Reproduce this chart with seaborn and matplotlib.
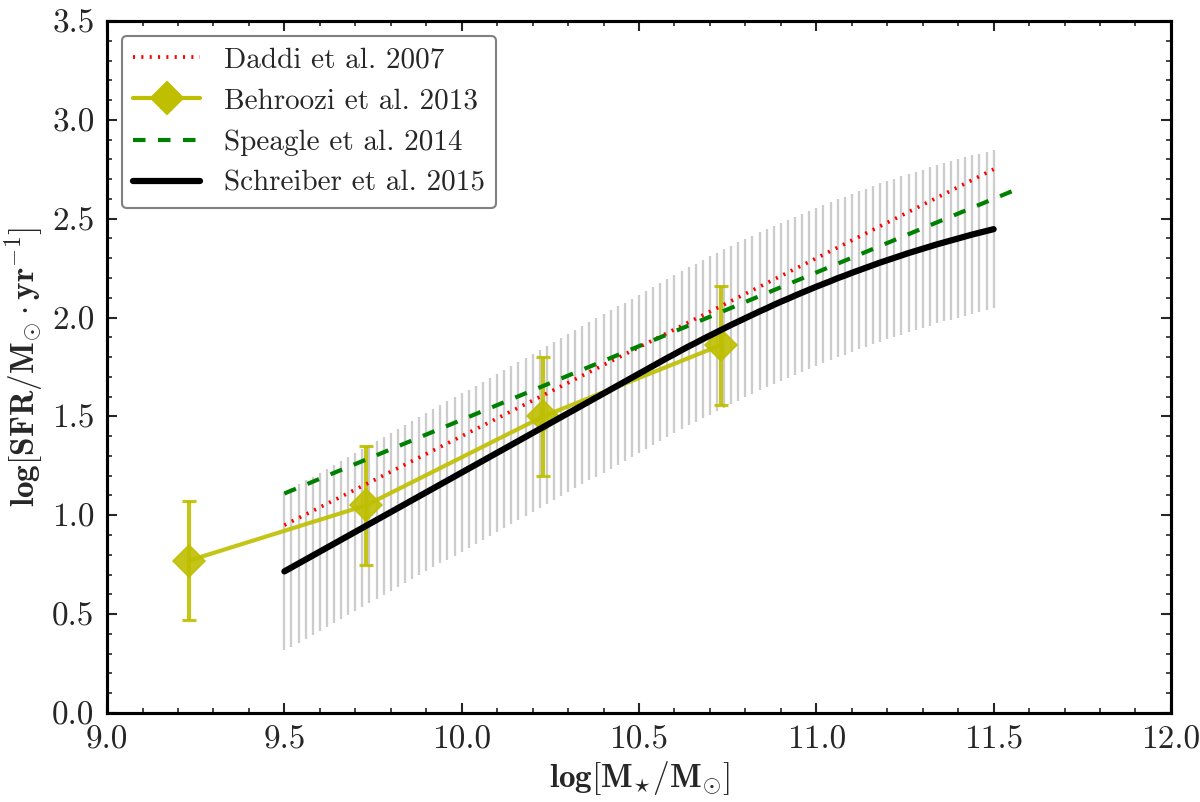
import numpy as np
import matplotlib
matplotlib.use('Agg')
import matplotlib.pyplot as plt
from matplotlib.ticker import MultipleLocator, FormatStrFormatter
from matplotlib.lines import Line2D
import seaborn as sns

# Schreiber et al. 2015 main sequence (z~2), read at 0.02 dex steps
schreiber_mass = [
    9.50, 9.52, 9.54, 9.56, 9.58, 9.60, 9.62, 9.64, 9.66, 9.68,
    9.70, 9.72, 9.74, 9.76, 9.78, 9.80, 9.82, 9.84, 9.86, 9.88,
    9.90, 9.92, 9.94, 9.96, 9.98, 10.00, 10.02, 10.04, 10.06, 10.08,
    10.10, 10.12, 10.14, 10.16, 10.18, 10.20, 10.22, 10.24, 10.26, 10.28,
    10.30, 10.32, 10.34, 10.36, 10.38, 10.40, 10.42, 10.44, 10.46, 10.48,
    10.50, 10.52, 10.54, 10.56, 10.58, 10.60, 10.62, 10.64, 10.66, 10.68,
    10.70, 10.72, 10.74, 10.76, 10.78, 10.80, 10.82, 10.84, 10.86, 10.88,
    10.90, 10.92, 10.94, 10.96, 10.98, 11.00, 11.02, 11.04, 11.06, 11.08,
    11.10, 11.12, 11.14, 11.16, 11.18, 11.20, 11.22, 11.24, 11.26, 11.28,
    11.30, 11.32, 11.34, 11.36, 11.38, 11.40, 11.42, 11.44, 11.46, 11.48,
    11.50,
]
schreiber_sfr = [
    0.716, 0.736, 0.756, 0.776, 0.796, 0.816, 0.836, 0.856, 0.876, 0.896,
    0.916, 0.936, 0.956, 0.976, 0.996, 1.016, 1.036, 1.056, 1.076, 1.096,
    1.116, 1.136, 1.156, 1.176, 1.196, 1.216, 1.236, 1.256, 1.276, 1.296,
    1.316, 1.336, 1.356, 1.376, 1.396, 1.416, 1.436, 1.456, 1.476, 1.496,
    1.516, 1.536, 1.556, 1.576, 1.596, 1.616, 1.636, 1.656, 1.676, 1.696,
    1.716, 1.736, 1.756, 1.776, 1.796, 1.815, 1.835, 1.854, 1.872, 1.891,
    1.909, 1.927, 1.945, 1.963, 1.980, 1.997, 2.014, 2.031, 2.047, 2.064,
    2.080, 2.095, 2.111, 2.126, 2.141, 2.156, 2.170, 2.184, 2.199, 2.212,
    2.226, 2.239, 2.252, 2.265, 2.278, 2.290, 2.302, 2.314, 2.326, 2.337,
    2.348, 2.359, 2.370, 2.380, 2.390, 2.400, 2.410, 2.420, 2.429, 2.438,
    2.447,
]
schreiber_scatter = 0.4

daddi_mass = [9.5, 11.5]
daddi_sfr = [0.95, 2.75]

speagle_mass = [9.5, 11.58]
speagle_sfr = [1.11, 2.66]

behroozi_mass = [9.23, 9.73, 10.23, 10.73]
behroozi_sfr = [0.77, 1.05, 1.50, 1.86]
behroozi_err = [0.30, 0.30, 0.30, 0.30]

labels = ['Daddi et al. 2007', 'Behroozi et al. 2013',
          'Speagle et al. 2014', 'Schreiber et al. 2015']

sns.set_style('ticks')
plt.rcParams['font.family'] = ['cmr10', 'DejaVu Serif']
plt.rcParams['mathtext.fontset'] = 'cm'
plt.rcParams['axes.unicode_minus'] = False
plt.rcParams['axes.formatter.use_mathtext'] = True
plt.rcParams['lines.scale_dashes'] = False

fig, ax = plt.subplots(figsize=(8, 5.347), dpi=150)
fig.subplots_adjust(left=0.0892, right=0.9758, top=0.9738, bottom=0.111)

# scatter band drawn as thin grey vertical bars
lo = np.array(schreiber_sfr) - schreiber_scatter
hi = np.array(schreiber_sfr) + schreiber_scatter
ax.vlines(schreiber_mass, lo, hi, color='0.8', lw=1.1, zorder=1)

yel = (0.75, 0.75, 0.0)
dotted = (0, (1, 3))
dashed = (0, (6, 6))

ax.errorbar(behroozi_mass, behroozi_sfr, yerr=behroozi_err, fmt='none',
            ecolor=yel, elinewidth=2, capsize=3.5, capthick=1.5,
            alpha=0.9, zorder=2)
sns.lineplot(x=behroozi_mass, y=behroozi_sfr, ax=ax, color=yel, lw=2,
             marker='D', markersize=11, markeredgecolor=yel, alpha=0.9,
             estimator=None, sort=False, zorder=2)
sns.lineplot(x=daddi_mass, y=daddi_sfr, ax=ax, color='r', lw=1.8,
             linestyle=dotted, estimator=None, sort=False, zorder=3)
sns.lineplot(x=speagle_mass, y=speagle_sfr, ax=ax, color='g', lw=2,
             linestyle=dashed, estimator=None, sort=False, zorder=3)
sns.lineplot(x=schreiber_mass, y=schreiber_sfr, ax=ax, color='k', lw=3,
             estimator=None, sort=False, zorder=4)

handles = [
    Line2D([], [], color='r', lw=1.8, linestyle=dotted),
    Line2D([], [], color=yel, lw=2, marker='D', markersize=11),
    Line2D([], [], color='g', lw=2, linestyle=dashed),
    Line2D([], [], color='k', lw=3),
]
leg = ax.legend(handles, labels, loc='upper left', fontsize=14, numpoints=1,
                handlelength=2.3, labelspacing=0.5, borderaxespad=0.5,
                fancybox=True, framealpha=1, edgecolor='0.5')
leg.get_frame().set_linewidth(1.0)

ax.set_xlim(9.0, 12.0)
ax.set_ylim(0.0, 3.5)
ax.xaxis.set_major_locator(MultipleLocator(0.5))
ax.xaxis.set_minor_locator(MultipleLocator(0.1))
ax.yaxis.set_major_locator(MultipleLocator(0.5))
ax.yaxis.set_minor_locator(MultipleLocator(0.1))
ax.xaxis.set_major_formatter(FormatStrFormatter('%.1f'))
ax.yaxis.set_major_formatter(FormatStrFormatter('%.1f'))
ax.tick_params(which='both', direction='in', top=True, right=True,
               labelsize=16, pad=6)
ax.tick_params(which='major', length=5, width=1.0)
ax.tick_params(which='minor', length=2.5, width=0.8)
for s in ax.spines.values():
    s.set_linewidth(1.5)
    s.set_color('k')

ax.set_xlabel(r'$\mathbf{log[M}_{\star}\mathbf{/M}_{\odot}\mathbf{]}$',
              fontsize=16, labelpad=2)
ax.set_ylabel(r'$\mathbf{log[SFR/M_{\odot}\cdot yr^{-1}]}$', fontsize=16,
              labelpad=3)

fig.savefig('out.png', dpi=150)
